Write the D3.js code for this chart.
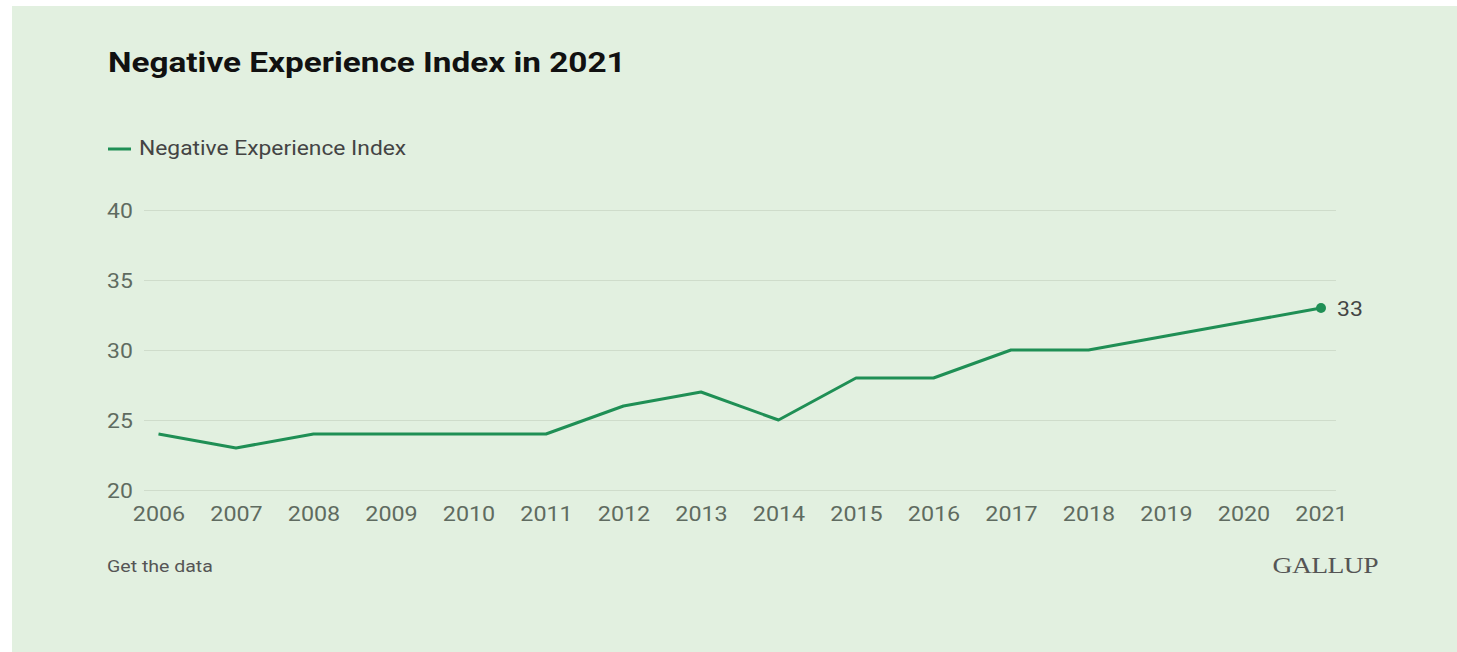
<!DOCTYPE html>
<html>
<head>
<meta charset="utf-8">
<script src="https://cdn.jsdelivr.net/npm/d3@7"></script>
<style>
  html, body { margin: 0; padding: 0; background: #ffffff; }
  svg { display: block; }
</style>
</head>
<body>
<svg id="chart" width="1457" height="652"></svg>
<script>
const years = [2006, 2007, 2008, 2009, 2010, 2011, 2012, 2013, 2014, 2015, 2016, 2017, 2018, 2019, 2020, 2021];
const values = [24, 23, 24, 24, 24, 24, 26, 27, 25, 28, 28, 30, 30, 31, 32, 33];
const yTicks = [20, 25, 30, 35, 40];
const seriesName = "Negative Experience Index";
const title = "Negative Experience Index in 2021";

const svg = d3.select("#chart");
const W = 1457, H = 652;
const green = "#1f8f55";
const textGrey = "#5f6b60";
const sans = "Roboto, 'Liberation Sans', sans-serif";

// horizontal stretch of a text around its anchor x
function stretch(sel, sx) {
  sel.each(function () {
    const t = d3.select(this);
    const x0 = +t.attr("x") || 0;
    t.attr("transform", `translate(${x0},0) scale(${sx},1) translate(${-x0},0)`);
  });
  return sel;
}

svg.append("rect").attr("x", 12).attr("y", 6).attr("width", W - 12).attr("height", H - 6)
  .attr("fill", "#e2f0e0");

const x = d3.scalePoint().domain(years).range([158.5, 1321]);
const y = d3.scaleLinear().domain([20, 40]).range([490, 210]);

stretch(svg.append("text").attr("x", 108).attr("y", 72)
  .attr("font-family", sans)
  .attr("font-weight", "bold").attr("font-size", 28).attr("fill", "#111")
  .text(title), 1.19);

// legend
svg.append("line").attr("x1", 108).attr("x2", 131).attr("y1", 149).attr("y2", 149)
  .attr("stroke", green).attr("stroke-width", 3);
stretch(svg.append("text").attr("x", 139).attr("y", 155.5)
  .attr("font-family", sans)
  .attr("font-size", 19.5).attr("fill", "#444")
  .text(seriesName), 1.17);

// gridlines
svg.append("g").selectAll("line").data(yTicks).join("line")
  .attr("x1", 144).attr("x2", 1336)
  .attr("y1", d => y(d) + 0.5).attr("y2", d => y(d) + 0.5)
  .attr("stroke", "#cfdccb").attr("stroke-width", 1);

// y axis
const yAxis = d3.axisLeft(y).tickValues(yTicks).tickSize(0).tickPadding(0);
const gy = svg.append("g").attr("transform", "translate(107,0)").call(yAxis);
gy.select(".domain").remove();
gy.selectAll("text").attr("text-anchor", "start").attr("x", 0).attr("dy", "0.38em")
  .attr("font-family", sans)
  .attr("font-size", 20.5).attr("fill", textGrey);
stretch(gy.selectAll("text"), 1.12);

// x axis
const xAxis = d3.axisBottom(x).tickSize(0).tickPadding(0);
const gx = svg.append("g").attr("transform", "translate(0,506)").call(xAxis);
gx.select(".domain").remove();
gx.selectAll("text").attr("dy", "0.71em")
  .attr("font-family", sans)
  .attr("font-size", 21).attr("fill", textGrey);
stretch(gx.selectAll("text"), 1.11);

// line
const line = d3.line().x((d, i) => x(years[i])).y(d => y(d));
svg.append("path").datum(values).attr("d", line)
  .attr("fill", "none").attr("stroke", green).attr("stroke-width", 3)
  .attr("stroke-linejoin", "round");

// end dot and label
const li = values.length - 1;
svg.append("circle").attr("cx", x(years[li])).attr("cy", y(values[li])).attr("r", 5)
  .attr("fill", green);
stretch(svg.append("text").attr("x", x(years[li]) + 16).attr("y", y(values[li]))
  .attr("dy", "0.4em")
  .attr("font-family", sans)
  .attr("font-size", 20.5).attr("fill", "#444")
  .text(values[li]), 1.12);

// footer
stretch(svg.append("text").attr("x", 107).attr("y", 572)
  .attr("font-family", sans)
  .attr("font-size", 17).attr("fill", "#555")
  .text("Get the data"), 1.15);
stretch(svg.append("text").attr("x", 1378).attr("y", 573).attr("text-anchor", "end")
  .attr("font-family", "'Liberation Serif', 'DejaVu Serif', serif")
  .attr("font-size", 24).attr("fill", "#555").attr("letter-spacing", -0.5)
  .text("GALLUP"), 1.15);
</script>
</body>
</html>
